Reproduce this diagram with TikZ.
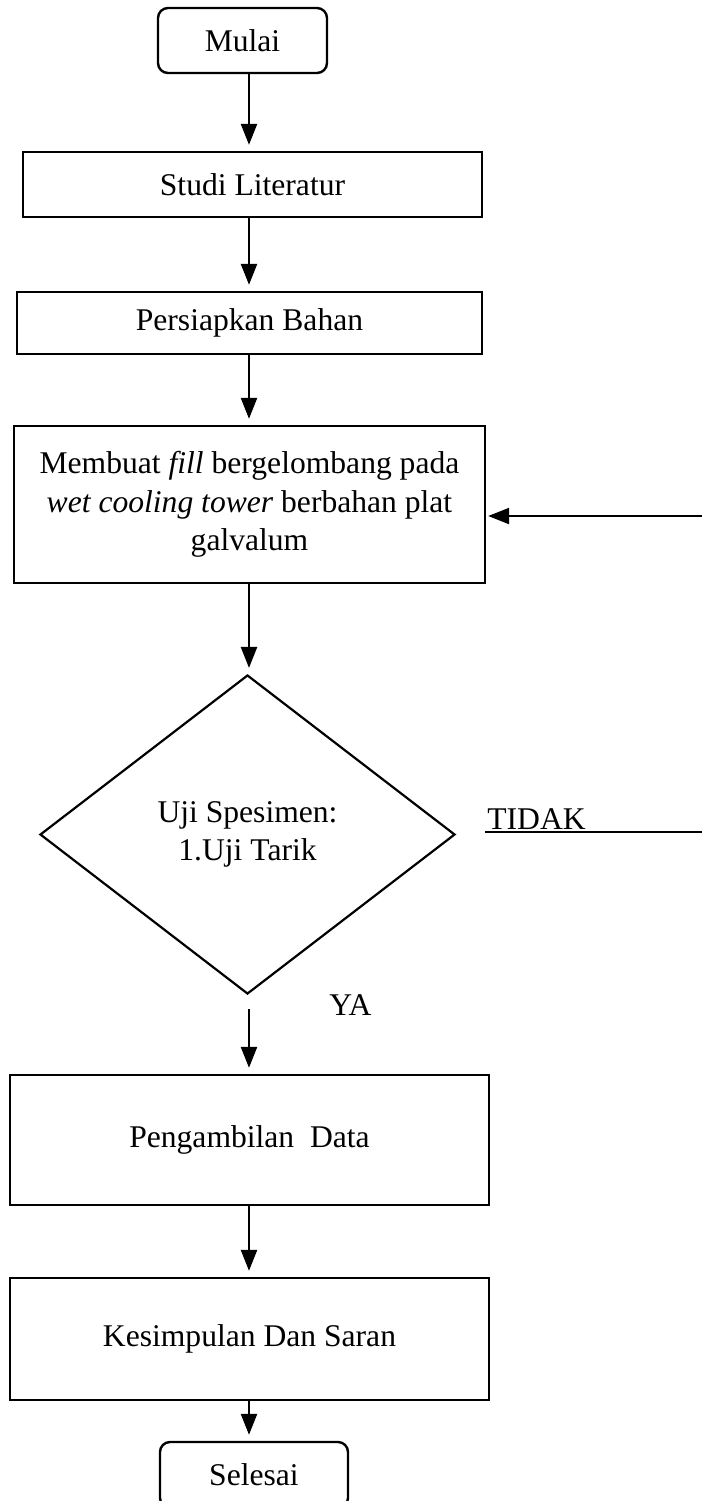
\documentclass[tikz,border=0pt]{standalone}
\usepackage{fontspec}
\setmainfont{Liberation Serif}
\usetikzlibrary{arrows.meta,shapes.geometric}
\begin{document}
\begin{tikzpicture}[x=0.5pt,y=-0.5pt,
  every node/.style={font=\fontsize{15.8}{19.2}\selectfont},
  arr/.style={line width=1.2pt, -{Triangle[width=8pt,length=10.5pt]}, shorten >=3pt},
  procbox/.style={draw, line width=1.2pt, rectangle, inner sep=0pt, align=center},
  termbox/.style={draw, line width=1.2pt, rectangle, rounded corners=5pt, inner sep=0pt, align=center},
  decbox/.style={draw, line width=1.1pt, diamond, inner sep=0pt, align=center},
  lbl/.style={inner sep=0pt}
]
\useasboundingbox (0,0) rectangle (702,1501);
\coordinate (ax) at (249,0);

\node[termbox, minimum width=84.5pt, minimum height=32.5pt] (mulai) at (242.5,40.5) {Mulai};
\node[procbox, minimum width=229.5pt, minimum height=32.5pt] (studi) at (252.5,184.5) {Studi Literatur};
\node[procbox, minimum width=232.5pt, minimum height=31pt] (persiapkan) at (249.5,323) {Persiapkan Bahan};
\node[procbox, minimum width=235.5pt, minimum height=78.5pt] (membuat) at (249.5,504.5)
  {Membuat \textit{fill} bergelombang pada\\ \textit{wet cooling tower} berbahan plat\\ galvalum};
\node[decbox, minimum width=207.5pt, minimum height=159.5pt] (uji) at (247.5,834.5)
  {\fontsize{15.8}{19.5}\selectfont Uji Spesimen:\\ 1.Uji Tarik};
\node[procbox, minimum width=239.5pt, minimum height=65pt] (ambil) at (249.5,1140) {Pengambilan\ \ Data};
\node[procbox, minimum width=239.5pt, minimum height=61pt] (simpul) at (249.5,1339) {Kesimpulan Dan Saran};
\node[termbox, minimum width=94pt, minimum height=33pt] (selesai) at (254,1475) {Selesai};

\node[lbl, anchor=base west] (ya) at (329,1015) {YA};
\node[lbl, anchor=base west] (tidak) at (487,829) {TIDAK};
\coordinate (tidakL) at (485,832);
\coordinate (tidakR) at (702,832);
\coordinate (backR) at (702,516);

\draw[arr] (ax |- mulai.south) -- (ax |- studi.north);
\draw[arr] (ax |- studi.south) -- (ax |- persiapkan.north);
\draw[arr] (ax |- persiapkan.south) -- (ax |- membuat.north);
\draw[arr] (ax |- membuat.south) -- (ax |- uji.north);
\draw[arr, shorten <=7pt] (ax |- uji.south) -- (ax |- ambil.north);
\draw[arr] (ax |- ambil.south) -- (ax |- simpul.north);
\draw[arr] (ax |- simpul.south) -- (ax |- selesai.north);

\draw[line width=1pt] (tidakL) -- (tidakR);
\draw[arr, shorten >=1pt] (backR) -- (backR -| membuat.east);
\end{tikzpicture}
\end{document}
